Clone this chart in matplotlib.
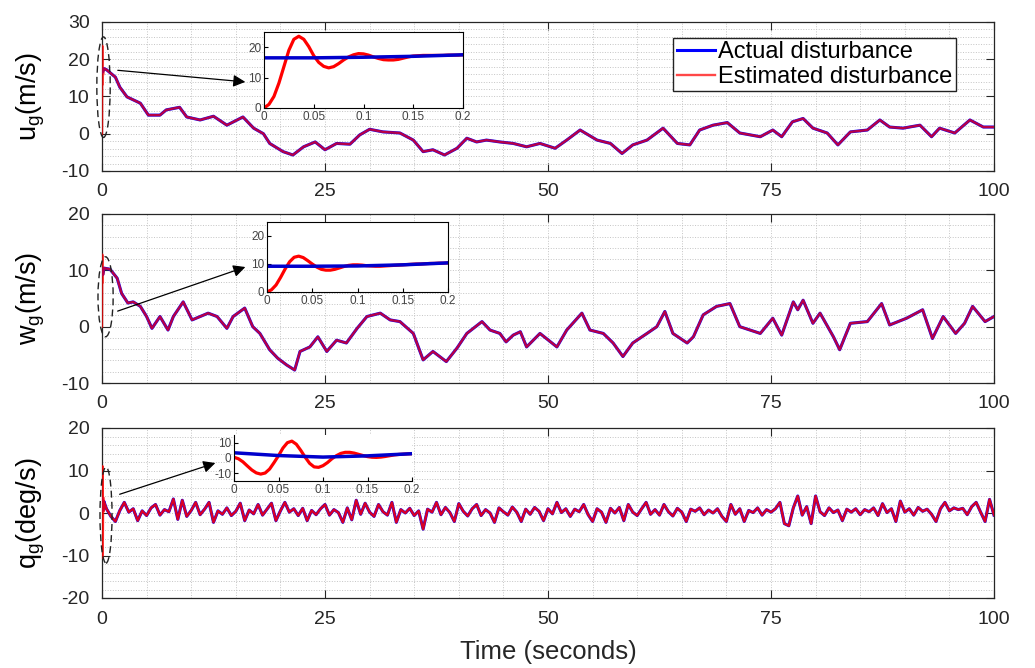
import matplotlib
matplotlib.use('Agg')
import matplotlib.pyplot as plt
import numpy as np
from matplotlib.patches import Ellipse
from matplotlib.ticker import MultipleLocator, FixedLocator

plt.rcParams['font.family'] = ['Liberation Sans', 'DejaVu Sans']
plt.rcParams['mathtext.fontset'] = 'custom'
plt.rcParams['mathtext.rm'] = 'Liberation Sans'
plt.rcParams['axes.unicode_minus'] = False

# ---- zoomed transient (first 0.2 s) ----
t_in = [0, .005, .01, .015, .02, .025, .03, .035, .04, .045, .05, .055, .06, .065,
        .07, .075, .08, .085, .09, .095, .1, .105, .11, .115, .12, .125, .13, .135,
        .14, .145, .15, .155, .16, .165, .17, .175, .18, .185, .19, .195, .2]
t_in_act = [0, 0.05, 0.1, 0.15, 0.2]

u_in_est = [0, 1.2, 3.8, 8.2, 13.6, 19.0, 22.6, 23.6, 22.6, 20.2, 17.2, 15.0, 13.7, 13.2,
            13.6, 14.6, 15.8, 16.8, 17.5, 17.9, 17.8, 17.4, 16.8, 16.3, 15.9, 15.8, 15.8, 16.0,
            16.4, 16.8, 17.1, 17.2, 17.3, 17.3, 17.3, 17.3, 17.3, 17.4, 17.4, 17.4, 17.5]
u_in_act = [16.5, 16.5, 16.7, 17.0, 17.5]

w_in_est = [0, 0.8, 2.5, 5.2, 8.2, 10.8, 12.4, 12.8, 12.3, 11.2, 10.0, 8.9, 8.1, 7.8,
            7.8, 8.1, 8.6, 9.1, 9.5, 9.7, 9.7, 9.6, 9.4, 9.3, 9.2, 9.2, 9.3, 9.4,
            9.5, 9.6, 9.7, 9.8, 9.9, 10.0, 10.0, 10.1, 10.2, 10.2, 10.3, 10.3, 10.4]
w_in_act = [9.2, 9.2, 9.3, 9.7, 10.4]

q_in_est = [0.5, -0.5, -2.5, -5.2, -7.8, -9.7, -10.5, -9.8, -7.2, -3.0, 1.5, 6.5, 10.0, 11.0,
            9.0, 5.0, 0.5, -3.5, -5.8, -6.1, -5.0, -3.0, -0.5, 1.5, 3.0, 3.7, 3.7, 3.2,
            2.4, 1.6, 0.9, 0.5, 0.4, 0.6, 1.0, 1.5, 2.0, 2.3, 2.5, 2.7, 2.8]
q_in_act = [3.4, 1.6, 0.6, 1.4, 2.8]

# ---- full run (0.5 .. 100 s) ----
t_u = [0.5, 1.5, 2.0, 2.8, 4.3, 5.2, 6.5, 7.2, 8.7, 9.5, 11.0, 12.5, 14.0, 15.8, 17.0, 18.1,
       18.8, 20.3, 21.4, 22.6, 23.9, 25.0, 26.3, 27.8, 28.9, 30.0, 31.5, 33.4, 34.9, 36.0,
       37.1, 38.4, 39.8, 40.9, 42.0, 43.1, 44.6, 46.1, 47.6, 49.1, 50.8, 52.1, 53.6, 55.5,
       57.0, 58.3, 59.5, 61.1, 62.9, 64.5, 65.9, 67.0, 68.5, 70.1, 71.5, 73.8, 75.2, 76.2,
       77.4, 78.6, 79.7, 81.3, 82.5, 83.9, 85.8, 87.2, 88.3, 89.8, 91.7, 93.0, 93.9, 95.6,
       97.3, 98.8, 100.0]
u_g = [17.2, 15.2, 12.5, 9.9, 8.2, 5.0, 5.0, 6.4, 7.1, 4.5, 3.7, 4.7, 2.3, 4.5, 1.5, 0.0,
       -2.6, -4.8, -5.7, -3.5, -2.2, -4.3, -2.6, -2.8, -0.3, 1.2, 0.5, 0.2, -1.7, -4.8,
       -4.3, -5.7, -3.9, -1.2, -2.2, -1.7, -2.2, -2.6, -3.5, -2.6, -3.9, -1.7, 1.0, -1.7,
       -2.6, -5.3, -3.0, -1.7, 1.5, -2.6, -3.0, 1.0, 2.3, 3.0, 0.2, -0.8, 1.0, -0.8,
       3.2, 4.1, 1.5, 0.2, -3.0, 0.5, 1.0, 3.7, 1.8, 1.5, 2.3, -0.8, 1.5, 0.2,
       3.7, 1.8, 1.8]

t_w = [0.9, 1.7, 2.2, 2.9, 3.5, 4.3, 5.0, 5.6, 6.5, 7.4, 8.0, 9.1, 10.1, 11.0, 11.9, 12.9,
       14.0, 14.7, 16.0, 16.9, 17.7, 18.8, 19.7, 20.7, 21.6, 22.2, 23.3, 24.2, 25.2, 26.3,
       27.4, 28.6, 29.7, 31.2, 32.3, 33.4, 34.9, 36.0, 37.1, 38.6, 39.8, 40.9, 42.6, 43.5,
       44.6, 45.3, 46.1, 46.9, 47.6, 49.1, 51.0, 52.1, 53.8, 54.7, 56.2, 57.3, 58.4, 59.5,
       61.1, 62.2, 63.1, 64.0, 65.6, 66.3, 67.4, 68.9, 70.4, 71.5, 73.8, 75.2, 76.2, 77.5,
       78.0, 78.6, 79.7, 80.5, 82.0, 82.7, 83.9, 85.8, 87.4, 88.3, 90.2, 92.0, 93.1, 94.3,
       95.7, 96.7, 97.6, 99.0, 100.0]
w_g = [10.2, 8.6, 5.9, 4.2, 4.4, 3.6, 1.8, -0.3, 1.8, -0.6, 1.8, 4.4, 1.2, 1.8, 2.4, 1.8,
       -0.3, 1.8, 3.3, 0.0, -1.2, -4.1, -5.6, -6.8, -7.7, -4.4, -3.6, -1.8, -4.4, -2.4,
       -2.9, -0.3, 1.8, 2.4, 1.2, 0.9, -1.2, -5.9, -4.4, -6.2, -3.8, -1.2, 0.9, -0.6,
       -1.2, -2.7, -1.5, -0.9, -3.6, -1.2, -3.6, -0.6, 2.4, -0.6, -1.2, -2.9, -5.3, -2.9,
       -1.2, 0.0, 2.7, -1.2, -2.9, -1.8, 2.1, 3.6, 4.1, 0.0, -1.2, 1.5, -1.5, 4.4,
       3.0, 4.7, 0.6, 2.4, -1.8, -4.1, 0.6, 0.9, 4.1, 0.3, 1.5, 3.0, -2.1, 1.8,
       -1.2, 0.6, 3.6, 0.9, 1.8]

t_q = np.arange(0.5, 100.01, 0.5)
q_g = [1.0, -0.8, -2.0, 0.6, 2.5, 0.2, 1.0, -1.8, 0.5, -0.6,
       1.2, 2.0, -0.5, 0.8, 0.3, 3.3, -1.5, 3.0, -0.8, 0.6,
       2.5, -0.4, 0.9, 2.5, -2.2, 0.5, -0.3, 1.2, -0.6, 0.4,
       2.3, -1.8, 0.7, -0.2, 2.0, -0.5, 0.9, 2.3, -1.8, 0.5,
       2.5, 0.2, 1.0, -0.6, 1.1, -1.8, 0.6, -0.4, 1.0, 2.0,
       -0.5, 0.8, 0.1, -2.2, 1.2, -1.6, 3.0, -0.3, 2.3, 0.2,
       -0.8, 2.0, 0.3, -0.5, 2.5, -2.2, 0.8, 0.0, 1.1, -0.6,
       0.5, -3.8, 0.9, 0.2, 2.5, -0.4, 1.3, 0.1, -2.0, 2.2,
       0.4, -0.7, 1.0, 2.0, -0.6, 0.8, 0.0, -2.2, 1.2, 0.3,
       -0.5, 1.4, 0.2, -2.0, 0.9, -0.3, 1.3, 0.4, -1.8, 1.0,
       -0.2, 2.5, 0.1, 1.0, -0.8, 0.9, 0.3, 2.0, -0.4, -2.0,
       1.0, 0.2, -2.2, 1.1, 0.0, 1.3, -1.8, 2.0, 0.2, -0.6,
       1.0, 2.5, -0.3, 0.8, -0.5, 2.0, 0.3, -0.7, 1.1, 0.2,
       -2.0, 0.9, 0.4, 1.2, -0.4, 0.7, 0.0, 1.0, -0.8, -2.0,
       2.0, -0.3, 1.0, -2.0, 0.6, 0.1, 1.2, -0.5, 0.8, 0.2,
       1.0, 2.5, -2.5, -3.0, 1.2, 4.0, -0.5, 1.5, -2.5, 4.0,
       0.3, -0.6, 1.2, 0.1, 0.7, -1.8, 0.9, 0.2, 1.0, -0.4,
       0.8, 0.3, 1.2, -0.6, 2.2, 0.1, 1.0, -2.0, 2.8, 0.2,
       1.0, -0.5, 1.3, 0.4, 0.9, -0.3, -2.0, 1.0, 2.5, 0.5,
       1.2, 0.8, 1.1, -0.4, 1.5, 2.5, 0.2, -2.0, 3.2, -0.5]

ylabels = [r'u$_\mathrm{g}$(m/s)', r'w$_\mathrm{g}$(m/s)', r'q$_\mathrm{g}$(deg/s)']
ylims = [(-10, 30), (-10, 20), (-20, 20)]
inset_ylims = [(0, 25), (0, 25), (-15, 15)]
inset_yticks = [[0, 10, 20], [0, 10, 20], [-10, 0, 10]]

W, H = 1035, 668
fig = plt.figure(figsize=(W / 100, H / 100), dpi=100)

def frac(x0, y0, x1, y1):
    return [x0 / W, 1 - y1 / H, (x1 - x0) / W, (y1 - y0) / H]

main_rects = [frac(102, 22, 994, 171), frac(102, 214, 994, 383), frac(102, 428, 994, 598)]
inset_rects = [frac(264, 32, 463, 108), frac(267, 222, 448, 292), frac(234, 435, 412, 481)]
# dashed ellipse (centre, width, height) around the t=0 transient
ellipses = [((0.17, 12.5), 1.5, 27), ((0.4, 5.3), 1.7, 14.2), ((0.45, -0.5), 1.35, 22.6)]
# arrow tail (data) and head (inset axes fraction)
arrows = [((1.46, 17.1), (-0.08, 0.34)), ((1.46, 2.6), (-0.105, 0.37)), ((1.68, 4.2), (-0.09, 0.41))]

series = [(t_u, u_g, u_in_est, u_in_act), (t_w, w_g, w_in_est, w_in_act),
          (list(t_q), q_g, q_in_est, q_in_act)]

dark = '#262626'
for i in range(3):
    t_main, vals, est_in, act_in = series[i]
    ax = fig.add_axes(main_rects[i])
    red_alpha = 0.85 if i == 2 else 0.72
    ax.plot(t_in_act + list(t_main), act_in + list(vals), color='#0000ff', lw=2.2, zorder=3,
            label='Actual disturbance')
    ax.plot(t_in + list(t_main), est_in + list(vals), color='#ff0000', lw=1.7, alpha=red_alpha,
            zorder=4, label='Estimated disturbance')
    ax.set_xlim(0, 100)
    ax.set_ylim(*ylims[i])
    ax.xaxis.set_major_locator(FixedLocator([0, 25, 50, 75, 100]))
    ax.xaxis.set_minor_locator(MultipleLocator(5))
    ax.yaxis.set_major_locator(MultipleLocator(10))
    ax.yaxis.set_minor_locator(MultipleLocator(2))
    ax.grid(which='both', ls=':', color='#c4c4c4', lw=0.7)
    ax.set_axisbelow(True)
    ax.tick_params(which='major', direction='in', top=True, right=True, length=6,
                   labelsize=14, labelcolor=dark, color=dark, pad=9)
    ax.tick_params(which='minor', length=0)
    for s in ax.spines.values():
        s.set_color(dark)
        s.set_linewidth(0.9)
    ax.set_ylabel(ylabels[i], fontsize=19.5)
    ax.yaxis.set_label_coords(-0.062, 0.5)

    (cx, cy), ew, eh = ellipses[i]
    ax.add_patch(Ellipse((cx, cy), ew, eh, fill=False, ls=(0, (5, 3)), lw=1.0,
                         ec='#222222', clip_on=False, zorder=6))

    ins = fig.add_axes(inset_rects[i], zorder=5)
    ins.plot(t_in, est_in, color='#ff0000', lw=2.3)
    ins.plot(t_in_act, act_in, color='#0000cc', lw=2.5)
    ins.set_xlim(0, 0.2)
    ins.set_ylim(*inset_ylims[i])
    ins.set_xticks([0, 0.05, 0.1, 0.15, 0.2])
    ins.set_xticklabels(['0', '0.05', '0.1', '0.15', '0.2'])
    ins.set_yticks(inset_yticks[i])
    ins.tick_params(direction='in', length=3, labelsize=8.5, labelcolor='#444444', pad=2)
    for s in ins.spines.values():
        s.set_linewidth(0.8)
    if i == 2:
        ins.spines['top'].set_visible(False)
        ins.spines['right'].set_visible(False)

    tail, head = arrows[i]
    ax.annotate('', xy=head, xycoords=ins.transAxes, xytext=tail, textcoords='data',
                arrowprops=dict(arrowstyle='-|>', color='k', lw=0.9, mutation_scale=18),
                annotation_clip=False, zorder=7)

    if i == 0:
        ax.legend(loc='upper right', bbox_to_anchor=(0.957, 0.893), borderaxespad=0,
                  fontsize=17, handlelength=1.65, handletextpad=0.1, borderpad=0.15,
                  labelspacing=0.1, frameon=True, fancybox=False, framealpha=1,
                  edgecolor='#222222').set_zorder(8)
    if i == 2:
        ax.set_xlabel('Time (seconds)', fontsize=18.5, color=dark, labelpad=9)

fig.savefig('out.png', dpi=100)
